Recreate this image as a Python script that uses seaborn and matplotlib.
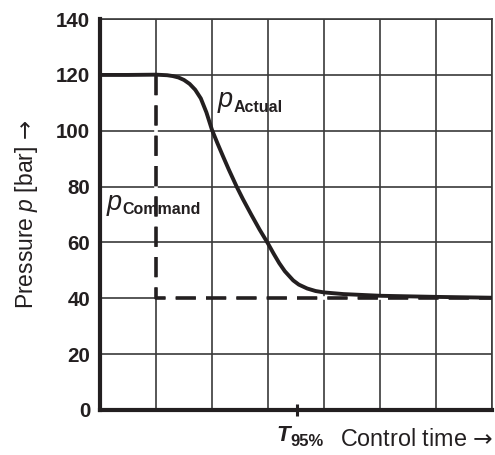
import matplotlib
matplotlib.use("Agg")
import matplotlib.pyplot as plt
import numpy as np
import pandas as pd
import seaborn as sns

# Actual pressure response over control time (grid units)
time = [0.0, 0.5, 1.0, 1.2, 1.3, 1.4, 1.5, 1.6, 1.7, 1.8, 1.9, 2.0, 2.1, 2.2,
        2.3, 2.44, 2.55, 2.7, 2.85, 3.0, 3.1, 3.2, 3.3, 3.45, 3.55, 3.7, 3.85,
        4.0, 4.35, 5.0, 6.0, 7.0]
p_actual = [120.0, 120.0, 120.1, 119.9, 119.6, 119.1, 118.2, 116.8, 114.7, 111.6,
            106.6, 100.3, 95.4, 90.7, 86.1, 80.0, 75.6, 70.0, 64.6, 59.6, 56.0,
            52.6, 49.7, 46.4, 44.9, 43.5, 42.6, 42.1, 41.5, 40.9, 40.5, 40.2]

# Commanded pressure step
command_time = [1.0, 1.0, 7.0]
command_p = [120.0, 40.0, 40.0]

y_ticks = [0, 20, 40, 60, 80, 100, 120, 140]
t95 = 3.52

ink = "#231f20"
grid_col = "#3a3a3a"

sns.set_theme(style="white")
plt.rcParams["font.family"] = ["Liberation Sans", "DejaVu Sans"]
plt.rcParams["mathtext.fontset"] = "custom"
plt.rcParams["mathtext.rm"] = "Liberation Sans"
plt.rcParams["mathtext.it"] = "Liberation Sans:italic"
plt.rcParams["mathtext.bf"] = "Liberation Sans:bold"
plt.rcParams["mathtext.sf"] = "DejaVu Sans"

ARROW = r"$\mathsf{→}$"

fig = plt.figure(figsize=(4.95, 4.55), dpi=100)
ax = fig.add_axes([0.202, 0.099, 0.792, 0.859])

actual = pd.DataFrame({"t": time, "p": p_actual})
command = pd.DataFrame({"t": command_time, "p": command_p})

sns.lineplot(data=command, x="t", y="p", sort=False, estimator=None, ax=ax,
             color=ink, lw=2.6, linestyle=(0, (5.6, 2.8)), gapcolor="white",
             zorder=2.5)
sns.lineplot(data=actual, x="t", y="p", sort=False, estimator=None, ax=ax,
             color=ink, lw=2.8, solid_capstyle="round", solid_joinstyle="round",
             zorder=3)

ax.set_xlim(0, 7)
ax.set_ylim(0, 140)
ax.set_yticks(y_ticks)
ax.set_yticklabels([str(v) for v in y_ticks])
ax.set_xticks(np.arange(0, 8), minor=True)
ax.set_xticks([t95])
ax.set_xticklabels([""])
ax.set_axisbelow(True)
ax.grid(False)
ax.grid(True, which="minor", axis="x", color=grid_col, lw=1.2)
ax.grid(True, which="major", axis="y", color=grid_col, lw=1.2)

ax.tick_params(axis="y", length=0, pad=7, labelsize=14.8, labelcolor=ink)
for lab in ax.get_yticklabels():
    lab.set_fontweight("bold")
ax.tick_params(axis="x", which="major", direction="inout", length=8,
               width=2.2, color=ink, bottom=True)
ax.tick_params(axis="x", which="minor", length=0)

for side in ("left", "bottom"):
    ax.spines[side].set_linewidth(3.0)
    ax.spines[side].set_color(ink)
    ax.spines[side].set_zorder(4)
for side in ("top", "right"):
    ax.spines[side].set_linewidth(1.2)
    ax.spines[side].set_color(grid_col)

ax.set_xlabel("")
ax.set_ylabel("Pressure $p$ [bar] " + ARROW, fontsize=16.5, color=ink)
ax.yaxis.set_label_coords(-0.152, 0.5)

# Curve labels: italic p with bold subscript
def sym_label(x, y, sub, base_size=19.5, sub_size=11.5):
    base = ax.annotate("p", xy=(x, y), xycoords="data",
                       textcoords="offset points", xytext=(0, 0),
                       fontsize=base_size, fontstyle="italic",
                       color=ink, va="baseline", ha="left")
    ax.annotate(sub, xy=(1.0, 0.0), xycoords=base, xytext=(0.5, 1),
                textcoords="offset points", fontsize=sub_size,
                fontweight="bold", color=ink, va="baseline", ha="left")
    return base

sym_label(2.1, 108.5, "Actual")
sym_label(0.12, 71.8, "Command")

t_lab = ax.annotate("T", xy=(t95, 0), xycoords="data", xytext=(-15, -22),
                    textcoords="offset points", fontsize=16, fontstyle="italic",
                    fontweight="bold", color=ink, va="baseline", ha="left",
                    annotation_clip=False)
ax.annotate("95%", xy=(1.0, 0.0), xycoords=t_lab, xytext=(0, 0),
            textcoords="offset points", fontsize=12, fontweight="bold",
            color=ink, va="baseline", ha="left")

ax.annotate("Control time " + ARROW, xy=(1.0, 0), xycoords="axes fraction",
            xytext=(1, -26), textcoords="offset points", fontsize=16.8,
            color=ink, va="baseline", ha="right", annotation_clip=False)

fig.savefig("out.png", dpi=100)
